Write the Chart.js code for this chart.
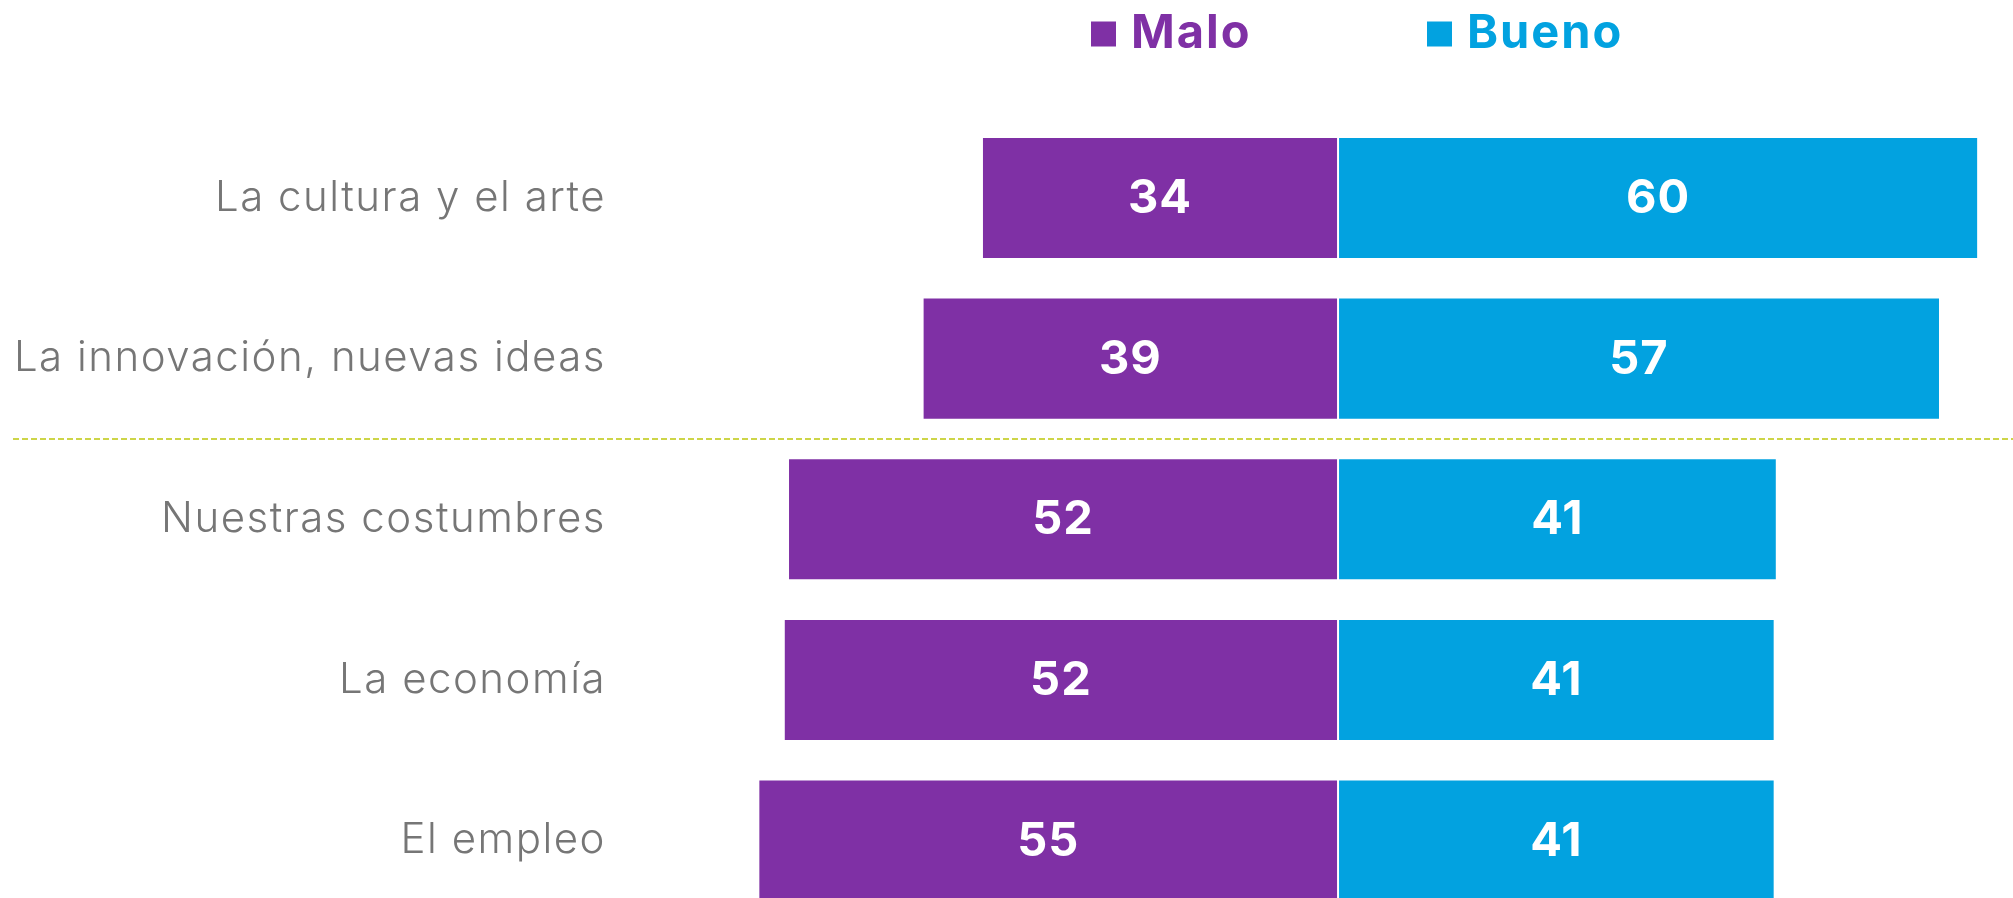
<!DOCTYPE html>
<html>
<head>
<meta charset="utf-8">
<script src="https://cdn.jsdelivr.net/npm/chart.js@4.4.1/dist/chart.umd.min.js"></script>
<style>
  html, body { margin: 0; padding: 0; background: #ffffff; overflow: hidden; }
  #wrap { position: relative; width: 2013px; height: 921px; }
</style>
</head>
<body>
<div id="wrap"><canvas id="c"></canvas></div>
<script>
// ---- data ----
const categories = [
  'La cultura y el arte',
  'La innovación, nuevas ideas',
  'Nuestras costumbres',
  'La economía',
  'El empleo'
];
const seriesNames = ['Malo', 'Bueno'];
const maloValues = [33.6, 39.2, 51.9, 52.3, 54.7];
const buenoValues = [60.4, 56.8, 41.4, 41.2, 41.2];
const seriesColors = ['#7f30a5', '#02a2e0'];

const fontFamily = 'Inter, "Open Sans", sans-serif';

// letter spacing for the category labels (drawn by the y scale)
const axisLetterSpacing = {
  id: 'axisLetterSpacing',
  beforeDraw(chart, args, opts) { chart.ctx.letterSpacing = opts.spacing; },
  beforeDatasetsDraw(chart) { chart.ctx.letterSpacing = '0px'; }
};

const divergingLegend = {
  id: 'divergingLegend',
  afterDraw(chart, args, opts) {
    const ctx = chart.ctx;
    ctx.save();
    ctx.letterSpacing = opts.spacing;
    ctx.font = `${opts.weight} ${opts.size}px ${opts.family}`;
    ctx.textBaseline = 'middle';
    ctx.textAlign = 'left';
    chart.data.datasets.forEach((ds, i) => {
      const x = opts.starts[i];
      ctx.fillStyle = ds.backgroundColor;
      ctx.fillRect(x, opts.y - opts.box / 2, opts.box, opts.box);
      ctx.fillText(ds.label, x + opts.box + opts.gap, opts.y);
    });
    ctx.restore();
  }
};

const barValueLabels = {
  id: 'barValueLabels',
  afterDatasetsDraw(chart, args, opts) {
    const ctx = chart.ctx;
    ctx.save();
    ctx.letterSpacing = opts.spacing;
    ctx.font = `${opts.weight} ${opts.size}px ${opts.family}`;
    ctx.fillStyle = opts.color;
    ctx.textAlign = 'center';
    ctx.textBaseline = 'middle';
    chart.data.datasets.forEach((ds, di) => {
      const meta = chart.getDatasetMeta(di);
      meta.data.forEach((bar, i) => {
        const p = bar.getProps(['x', 'y', 'base'], true);
        const v = Math.round(Math.abs(ds.data[i]));
        ctx.fillText(String(v), (p.x + p.base) / 2, p.y + 1);
      });
    });
    ctx.restore();
  }
};

const dividerLine = {
  id: 'dividerLine',
  beforeDatasetsDraw(chart, args, opts) {
    const y = chart.scales.y;
    const yy = (y.getPixelForValue(opts.after) + y.getPixelForValue(opts.after + 1)) / 2;
    const ctx = chart.ctx;
    ctx.save();
    ctx.strokeStyle = opts.color;
    ctx.lineWidth = opts.width;
    ctx.setLineDash(opts.dash);
    ctx.beginPath();
    ctx.moveTo(opts.left, yy);
    ctx.lineTo(chart.width, yy);
    ctx.stroke();
    ctx.restore();
  }
};

new Chart(document.getElementById('c'), {
  type: 'bar',
  data: {
    labels: categories,
    datasets: [
      { label: seriesNames[0], data: maloValues.map(v => -v), backgroundColor: seriesColors[0],
        borderColor: '#ffffff', borderWidth: 1, borderSkipped: false },
      { label: seriesNames[1], data: buenoValues, backgroundColor: seriesColors[1],
        borderColor: '#ffffff', borderWidth: 1, borderSkipped: false }
    ]
  },
  options: {
    indexAxis: 'y',
    responsive: true,
    maintainAspectRatio: false,
    animation: false,
    layout: { padding: { top: 117.6, right: 2, bottom: 0, left: 0 } },
    datasets: { bar: { categoryPercentage: 1, barPercentage: 0.76 } },
    scales: {
      x: { stacked: true, min: -67, max: 63.5, display: false },
      y: {
        stacked: true,
        grid: { display: false, drawTicks: false },
        border: { display: false },
        ticks: { color: '#767676', padding: 22, font: { family: fontFamily, size: 42, weight: '300' } },
        afterFit(scale) { scale.width = 628; scale.paddingTop = 0; scale.paddingBottom = 0; }
      }
    },
    plugins: {
      legend: { display: false },
      tooltip: { enabled: false },
      axisLetterSpacing: { spacing: '1.5px' },
      divergingLegend: { starts: [1091, 1427], y: 34, box: 25, gap: 15, size: 47, weight: '700', family: fontFamily, spacing: '2px' },
      barValueLabels: { size: 47, weight: '700', family: fontFamily, color: '#ffffff', spacing: '1px' },
      dividerLine: { after: 1, color: '#cdd548', width: 2, dash: [6, 3], left: 13 }
    }
  },
  plugins: [axisLetterSpacing, divergingLegend, barValueLabels, dividerLine]
});
</script>
</body>
</html>
